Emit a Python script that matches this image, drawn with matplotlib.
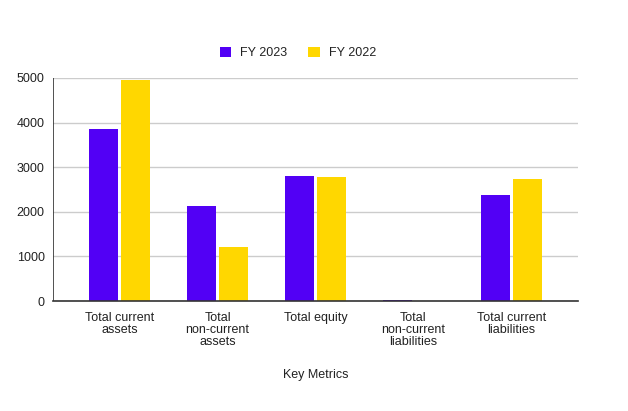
import matplotlib
matplotlib.use("Agg")
import matplotlib.pyplot as plt
import numpy as np

categories = ["Total current\nassets", "Total\nnon-current\nassets", "Total equity",
              "Total\nnon-current\nliabilities", "Total current\nliabilities"]
fy2023 = [3855, 2126, 2800, 20, 2380]
fy2022 = [4955, 1212, 2777, 0, 2740]
series_names = ["FY 2023", "FY 2022"]
yticks = [0, 1000, 2000, 3000, 4000, 5000]

plt.rcParams['font.family'] = ['Liberation Sans', 'DejaVu Sans']

fig = plt.figure(figsize=(6.28, 4.11), dpi=100)
ax = fig.add_axes([53/628, 110/411, 525/628, 223/411])

x = np.arange(len(categories))
w = 0.296
gap = 0.015
purple = "#5200F5"
yellow = "#FFD700"
b1 = ax.bar(x - w/2 - gap, fy2023, width=w, color=purple, label=series_names[0], zorder=3)
b2 = ax.bar(x + w/2 + gap, fy2022, width=w, color=yellow, label=series_names[1], zorder=3)

ax.set_xlim(-0.68, len(categories) - 1 + 0.68)
ax.set_ylim(0, 5000)
ax.set_yticks(yticks)
ax.set_yticklabels([str(v) for v in yticks])
ax.set_xticks(x)
ax.set_xticklabels(categories, linespacing=1.0)
ax.tick_params(axis='both', length=0, labelsize=9, colors="#222222")
ax.tick_params(axis='x', pad=8)
ax.tick_params(axis='y', pad=6)
ax.grid(axis='y', color="#cccccc", linewidth=1, zorder=0)
for s in ["top", "right", "left"]:
    ax.spines[s].set_visible(False)
ax.spines["bottom"].set_color("#333333")
ax.spines["bottom"].set_linewidth(1.2)
ax.spines["bottom"].set_zorder(4)
ax.axvline(ax.get_xlim()[0], color="#333333", linewidth=1.2, zorder=4)

ax.set_xlabel("Key Metrics", fontsize=9, color="#222222", labelpad=15)

leg = fig.legend(handles=[b1, b2], labels=series_names, loc="center",
                 bbox_to_anchor=(298/628, 1 - 53/411), ncol=2, frameon=False,
                 fontsize=9, handlelength=0.9, handleheight=0.9, columnspacing=1.65,
                 handletextpad=0.75)
for t in leg.get_texts():
    t.set_color("#222222")

fig.savefig("out.png", dpi=100)
